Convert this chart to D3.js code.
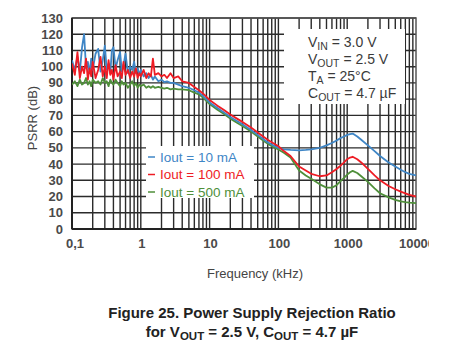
<!DOCTYPE html>
<html>
<head>
<meta charset="utf-8">
<script src="https://cdn.jsdelivr.net/npm/d3@7"></script>
<style>
  body { margin: 0; background: #fff; }
  svg { display: block; font-family: "Liberation Sans", Arial, sans-serif; }
</style>
</head>
<body>
<div id="chart"></div>
<script>
// frequency points (kHz)
const freq = [
  0.10, 0.11, 0.12, 0.13, 0.14, 0.15, 0.16, 0.17, 0.18, 0.19,
  0.20, 0.22, 0.24, 0.26, 0.28, 0.30, 0.32, 0.34, 0.36, 0.38,
  0.40, 0.43, 0.46, 0.50, 0.53, 0.56, 0.60, 0.65, 0.70, 0.75,
  0.80, 0.85, 0.90, 0.95, 1.0, 1.1, 1.2, 1.3, 1.4, 1.5,
  1.6, 1.8, 2.0, 2.2, 2.4, 2.7, 3.0, 3.5, 4.0,
  5, 6, 7, 8, 10, 13, 16, 20, 25, 30,
  40, 50, 60, 70, 80, 100,
  120, 150, 200, 250, 300, 400, 500, 600, 700, 800,
  900, 1000, 1100, 1200, 1400, 1600, 2000, 2500, 3000, 4000,
  5000, 6000, 7000, 8000, 10000
];

// PSRR (dB) for Iout = 10 mA
const psrr10 = [
  104, 98, 106, 97, 112, 120, 99, 103, 96, 105,
  98, 108, 111, 97, 104, 113, 98, 102, 96, 110,
  112, 99, 104, 109, 97, 101, 108, 96, 100, 98,
  103, 96, 99, 95, 98, 94, 96, 93, 95, 92,
  94, 91, 92, 90.5, 91, 90, 90, 89, 88,
  87, 85.5, 84, 82, 78, 74.5, 72, 69, 66.5, 64.5,
  61, 58, 55.5, 53.5, 52, 50,
  49, 48.7, 48.5, 48.7, 49, 50, 51.5, 53, 54.5, 56,
  57, 58, 58.5, 58.8, 57, 55, 51.5, 48, 45, 41,
  38.5, 36.5, 35, 34, 33
];

// PSRR (dB) for Iout = 100 mA
const psrr100 = [
  102, 95, 109, 93, 100, 96, 105, 92, 99, 94,
  103, 93, 98, 106, 94, 100, 93, 104, 95, 98,
  92, 101, 94, 97, 93, 103, 95, 98, 93, 97,
  94, 99, 93, 96, 94, 98, 93, 96, 94, 105,
  95, 96, 94, 95, 93, 96, 93, 94, 91,
  90, 87.5, 85.5, 83.5, 79.5, 76, 73.5, 70.5, 68, 66,
  62.5, 59.5, 57, 55, 53.5, 51,
  48, 45, 38.5, 36, 34, 32.5, 33, 35, 37, 39,
  41, 43, 44, 44.5, 43, 41, 37, 33, 30, 26.5,
  24.5, 23, 22, 21, 20
];

// PSRR (dB) for Iout = 500 mA
const psrr500 = [
  89, 91, 88, 92, 89, 90, 93, 89, 91, 88,
  92, 90, 91, 89, 93, 90, 91, 88, 92, 90,
  89, 92, 90, 88, 91, 89, 90, 87, 89, 91,
  88, 90, 87, 89, 88, 89, 87, 88, 87, 88,
  87, 87.5, 87, 86.5, 87, 86, 86.5, 86, 86,
  85.5, 84, 83, 81, 77, 73.5, 71, 68, 65.5, 63.5,
  60, 57, 54.5, 52.5, 51, 49,
  47, 44, 36, 33, 31, 27.5, 25.5, 25.5, 27, 29.5,
  31.5, 33.5, 35, 35.8, 34.5, 32.5, 29, 25, 22, 19.5,
  18, 17, 16.5, 16.2, 16
];

const seriesNames = ["Iout = 10 mA", "Iout = 100 mA", "Iout = 500 mA"];
const seriesColors = ["#3f86c6", "#ee1c24", "#4f8f3a"];
const yTicks = [0, 10, 20, 30, 40, 50, 60, 70, 80, 90, 100, 110, 120, 130];
const xTickValues = [0.1, 1, 10, 100, 1000, 10000];
const xTickLabels = ["0,1", "1", "10", "100", "1000", "10000"];

const W = 472, H = 350;
const margin = { top: 18, right: 56, bottom: 121, left: 72 };
const width = W - margin.left - margin.right;
const height = H - margin.top - margin.bottom;

const svg = d3.select("#chart").append("svg")
  .attr("width", W)
  .attr("height", H);

const defs = svg.append("defs");
defs.append("clipPath").attr("id", "plotclip")
  .append("rect").attr("width", width).attr("height", height);
defs.append("clipPath").attr("id", "pageclip")
  .append("rect").attr("x", 0).attr("y", 0).attr("width", 429).attr("height", H);

const g = svg.append("g")
  .attr("transform", `translate(${margin.left},${margin.top})`);

const x = d3.scaleLog().domain([0.1, 10000]).range([0, width]);
const y = d3.scaleLinear().domain([0, 130]).range([height, 0]);

// grid: vertical lines at 1..9 of each decade
const minor = [];
[0.1, 1, 10, 100, 1000].forEach(dec => {
  for (let k = 1; k <= 9; k++) minor.push(dec * k);
});

const grid = g.append("g").attr("stroke", "#2b2b2b").attr("stroke-width", 1.4);
grid.selectAll(".vg").data(minor).enter().append("line")
  .attr("x1", d => x(d)).attr("x2", d => x(d))
  .attr("y1", 0).attr("y2", height);
grid.selectAll(".hg").data(yTicks).enter().append("line")
  .attr("x1", 0).attr("x2", width)
  .attr("y1", d => y(d)).attr("y2", d => y(d));

// right-side annotation box (covers grid)
g.append("rect")
  .attr("x", 284 - margin.left).attr("y", 29 - margin.top)
  .attr("width", 121).attr("height", 75)
  .attr("fill", "#fff");

// legend box
g.append("rect")
  .attr("x", 146 - margin.left).attr("y", 146 - margin.top)
  .attr("width", 108).attr("height", 52)
  .attr("fill", "#fff");

// frame
g.append("rect")
  .attr("width", width).attr("height", height)
  .attr("fill", "none").attr("stroke", "#555").attr("stroke-width", 1.5);
g.append("line")
  .attr("x1", 0).attr("x2", width).attr("y1", height).attr("y2", height)
  .attr("stroke", "#222").attr("stroke-width", 2);
g.append("line")
  .attr("x1", 0).attr("x2", 0).attr("y1", 0).attr("y2", height)
  .attr("stroke", "#222").attr("stroke-width", 2);

// curves
const series = [psrr10, psrr100, psrr500];
const line = d3.line()
  .x(d => x(d[0]))
  .y(d => y(d[1]));

const curves = g.append("g").attr("clip-path", "url(#plotclip)");
// draw green first, then blue, red on top
[2, 0, 1].forEach(i => {
  curves.append("path")
    .datum(freq.map((f, j) => [f, series[i][j]]))
    .attr("fill", "none")
    .attr("stroke", seriesColors[i])
    .attr("stroke-width", 1.8)
    .attr("stroke-linejoin", "round")
    .attr("d", line);
});

// y axis labels
g.selectAll(".ytl").data(yTicks).enter().append("text")
  .attr("x", -9)
  .attr("y", d => y(d))
  .attr("dy", "0.35em")
  .attr("text-anchor", "end")
  .style("font-size", "13px")
  .style("font-weight", "bold")
  .style("fill", "#4a4a4a")
  .text(d => d);

// x axis labels
svg.append("g").attr("clip-path", "url(#pageclip)")
  .selectAll(".xtl").data(xTickValues).enter().append("text")
  .attr("x", d => margin.left + x(d) + (d === 0.1 ? 3 : 1))
  .attr("y", 248)
  .attr("text-anchor", "middle")
  .style("font-size", "13px")
  .style("font-weight", "bold")
  .style("fill", "#4a4a4a")
  .text((d, i) => xTickLabels[i]);

// axis titles
svg.append("text")
  .attr("x", 255).attr("y", 278)
  .attr("text-anchor", "middle")
  .style("font-size", "13px")
  .style("fill", "#444")
  .text("Frequency (kHz)");

svg.append("text")
  .attr("transform", "translate(37,118) rotate(-90)")
  .attr("text-anchor", "middle")
  .style("font-size", "13px")
  .style("fill", "#444")
  .text("PSRR (dB)");

// legend
seriesNames.forEach((name, i) => {
  const ly = 157 + i * 17.5;
  svg.append("line")
    .attr("x1", 148).attr("x2", 155)
    .attr("y1", ly).attr("y2", ly)
    .attr("stroke", seriesColors[i]).attr("stroke-width", 1.5);
  svg.append("text")
    .attr("x", 160).attr("y", ly)
    .attr("dy", "0.35em")
    .style("font-size", "13.5px")
    .style("fill", seriesColors[i])
    .text(name);
});

// conditions box text
const conds = [
  ["V", "IN", " = 3.0 V"],
  ["V", "OUT", " = 2.5 V"],
  ["T", "A", " = 25°C"],
  ["C", "OUT", " = 4.7 µF"]
];
conds.forEach((c, i) => {
  const t = svg.append("text")
    .attr("x", 308).attr("y", 47 + i * 17)
    .style("font-size", "14px")
    .style("fill", "#3a3a3a");
  t.append("tspan").text(c[0]);
  t.append("tspan").attr("dy", 3).style("font-size", "10.5px").text(c[1]);
  t.append("tspan").attr("dy", -3).text(c[2]);
});

// figure caption
svg.append("text")
  .attr("x", 252).attr("y", 318)
  .attr("text-anchor", "middle")
  .style("font-size", "15px")
  .style("font-weight", "bold")
  .style("fill", "#222")
  .text("Figure 25. Power Supply Rejection Ratio");

const cap2 = svg.append("text")
  .attr("x", 252).attr("y", 337)
  .attr("text-anchor", "middle")
  .style("font-size", "15px")
  .style("font-weight", "bold")
  .style("fill", "#222");
cap2.append("tspan").text("for V");
cap2.append("tspan").attr("dy", 3).style("font-size", "11.5px").text("OUT");
cap2.append("tspan").attr("dy", -3).text(" = 2.5 V, C");
cap2.append("tspan").attr("dy", 3).style("font-size", "11.5px").text("OUT");
cap2.append("tspan").attr("dy", -3).text(" = 4.7 µF");
</script>
</body>
</html>
